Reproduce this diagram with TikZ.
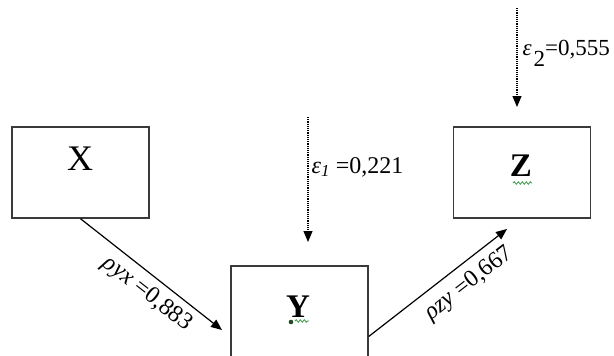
\documentclass[tikz,border=0pt]{standalone}
\usepackage{fontspec}
\setmainfont{Liberation Serif}
\usetikzlibrary{arrows.meta, decorations.pathmorphing}
\definecolor{cline}{HTML}{3A3A3A}
\definecolor{cspell}{HTML}{3C9A48}
\tikzset{
  every picture/.style={x=1pt, y=-1pt, line width=1.2pt},
  box/.style={draw=cline, line width=1.4pt, minimum width=137pt, minimum height=91pt, inner sep=0pt},
  var/.style={font=\fontsize{36}{40}\selectfont, inner sep=0pt},
  effect/.style={-{Triangle[length=11pt, width=9pt]}, draw=black},
  errarrow/.style={-{Triangle[length=11pt, width=9pt]}, densely dotted, draw=black},
  coef/.style={font=\fontsize{24}{28}\selectfont, inner sep=2pt},
  squiggle/.style={draw=cspell, line width=0.8pt, decorate, decoration={snake, amplitude=1.3pt, segment length=4pt}},
}

\begin{document}
\begin{tikzpicture}
  \path[use as bounding box, clip] (0,0) rectangle (614,356);
  % the three variables
  \node[box] (X) at (80.5,172.5) {};
  \node[box] (Y) at (299.5,311.5) {};
  \node[box] (Z) at (522,172.5) {};
  \node[var] (xname) at (80,159) {X};
  \node[var, font=\fontsize{33}{38}\selectfont\bfseries] (yname) at (298,307) {Y};
  \node[var, font=\fontsize{33}{38}\selectfont\bfseries] (zname) at (521,166) {Z};
  % spelling marks under Y and Z
  \fill[cspell!50!black] (291,322) circle (2.3pt);
  \draw[squiggle] (295,321) -- (309,321);
  \draw[squiggle] (513,183) -- (532,183);
  % paths
  \coordinate (xyend) at (222,330);
  \coordinate (yzend) at (507,229);
  \draw[effect] (X.south) -- (xyend) node[coef, pos=0.55, sloped, below=5pt] {\textit{ρyx} =0,883};
  \draw[effect] ([yshift=-25pt]Y.east) -- (yzend) node[coef, pos=0.64, sloped, below=7pt] {\textit{ρzy} =0,667};
  % residuals
  \coordinate (e1top) at (308,117);
  \coordinate (e1tip) at (308,242);
  \coordinate (e2top) at (517,8);
  \coordinate (e2tip) at (517,107);
  \draw[errarrow] (e1top) -- (e1tip);
  \draw[errarrow] (e2top) -- (e2tip);
  \node[coef, anchor=base west] (e1) at (309,173) {\textit{ε}\textsubscript{\textit{1}} =0,221};
  \node[coef, anchor=base west, inner sep=1pt, font=\fontsize{23}{27}\selectfont] (e2) at (521,55) {\textit{ε}\hspace{2pt}\raisebox{-0.5em}{2}=0,555};
\end{tikzpicture}
\end{document}
